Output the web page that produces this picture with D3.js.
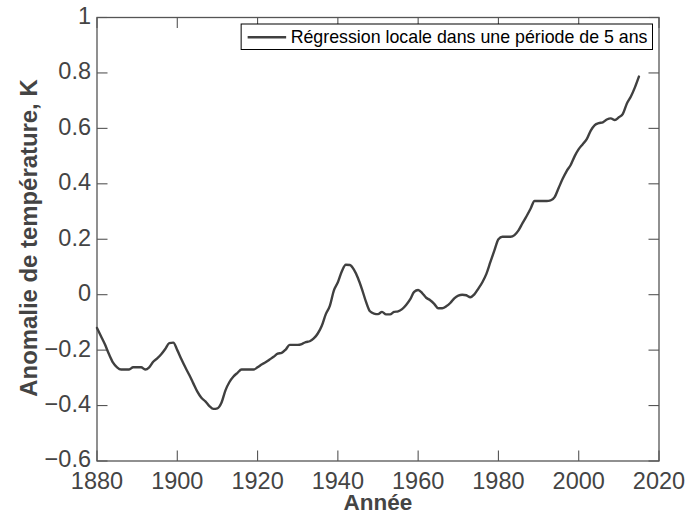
<!DOCTYPE html>
<html>
<head>
<meta charset="utf-8">
<script src="https://cdn.jsdelivr.net/npm/d3@7"></script>
<style>
  body { margin: 0; background: #fff; }
  svg { display: block; font-family: "Liberation Sans", Arial, sans-serif; }
</style>
</head>
<body>
<svg id="chart" width="689" height="513"></svg>
<script>
// yearly values, 1880..2015
var startYear = 1880;
var anomaly = [
  -0.12, -0.15, -0.18, -0.215, -0.245, -0.262, -0.27, -0.27, -0.27, -0.262,
  -0.262, -0.262, -0.27, -0.262, -0.242, -0.23, -0.215, -0.196, -0.175, -0.173,
  -0.2, -0.232, -0.262, -0.29, -0.32, -0.35, -0.372, -0.385, -0.402, -0.412,
  -0.41, -0.39, -0.345, -0.315, -0.295, -0.282, -0.27, -0.27, -0.27, -0.27,
  -0.262, -0.252, -0.244, -0.234, -0.224, -0.213, -0.21, -0.198, -0.181, -0.181,
  -0.181, -0.178, -0.171, -0.168, -0.158, -0.14, -0.112, -0.07, -0.04, 0.015,
  0.045, 0.085, 0.108, 0.107, 0.09, 0.06, 0.02, -0.025, -0.06, -0.068,
  -0.07, -0.062, -0.071, -0.071, -0.062, -0.06, -0.052, -0.037, -0.017, 0.01,
  0.017, 0.006, -0.011, -0.02, -0.033, -0.049, -0.049, -0.042, -0.03, -0.013,
  -0.003, 0, -0.002, -0.009, 0.001, 0.022, 0.045, 0.075, 0.118, 0.16,
  0.2, 0.209, 0.209, 0.209, 0.215, 0.232, 0.258, 0.283, 0.31, 0.338,
  0.338, 0.338, 0.338, 0.34, 0.352, 0.385, 0.418, 0.446, 0.468, 0.5,
  0.525, 0.543, 0.561, 0.592, 0.612, 0.619, 0.622, 0.632, 0.636, 0.63,
  0.64, 0.652, 0.69, 0.715, 0.748, 0.787
];
var xTicks = [1880, 1900, 1920, 1940, 1960, 1980, 2000, 2020];
var yTicks = [-0.6, -0.4, -0.2, 0, 0.2, 0.4, 0.6, 0.8, 1];
var legendLabel = "Régression locale dans une période de 5 ans";
var xLabel = "Année";
var yLabel = "Anomalie de température, K";

var margin = {left: 97, right: 30, top: 17.5, bottom: 52};
var width = 689, height = 513;
var axisColor = "#555", textColor = "#444", lineColor = "#404040";
var tickLen = 10.5;
var tickFont = 23.5;

var svg = d3.select("#chart");

var x = d3.scaleLinear().domain([1880, 2020]).range([margin.left, width - margin.right]);
var y = d3.scaleLinear().domain([-0.6, 1]).range([height - margin.bottom, margin.top]);

var data = anomaly.map(function(v, i) { return {year: startYear + i, value: v}; });

// tick label formatter, minus sign like the original
function fmtY(d) {
  var s = d3.format("")(+d.toFixed(1));
  return s.replace("-", "\u2212");
}

// frame
svg.append("rect")
   .attr("x", x.range()[0]).attr("y", y.range()[1])
   .attr("width", x.range()[1] - x.range()[0])
   .attr("height", y.range()[0] - y.range()[1])
   .attr("fill", "none").attr("stroke", axisColor).attr("stroke-width", 1.3);

// ticks on all four sides, pointing inward
var tickG = svg.append("g").attr("stroke", axisColor).attr("stroke-width", 1.1);
xTicks.forEach(function(t) {
  tickG.append("line").attr("x1", x(t)).attr("x2", x(t))
       .attr("y1", y.range()[0]).attr("y2", y.range()[0] - tickLen);
  tickG.append("line").attr("x1", x(t)).attr("x2", x(t))
       .attr("y1", y.range()[1]).attr("y2", y.range()[1] + tickLen);
});
yTicks.forEach(function(t) {
  tickG.append("line").attr("x1", x.range()[0]).attr("x2", x.range()[0] + tickLen)
       .attr("y1", y(t)).attr("y2", y(t));
  tickG.append("line").attr("x1", x.range()[1]).attr("x2", x.range()[1] - tickLen)
       .attr("y1", y(t)).attr("y2", y(t));
});

// tick labels
svg.append("g").selectAll("text").data(xTicks).enter().append("text")
   .attr("x", function(d) { return x(d); })
   .attr("y", 488.5)
   .attr("text-anchor", "middle")
   .attr("font-size", tickFont).attr("fill", textColor)
   .text(function(d) { return d; });

svg.append("g").selectAll("text").data(yTicks).enter().append("text")
   .attr("x", x.range()[0] - 6)
   .attr("y", function(d) { return y(d) - 2; })
   .attr("dy", "0.36em")
   .attr("text-anchor", "end")
   .attr("font-size", tickFont).attr("fill", textColor)
   .text(fmtY);

// axis titles
svg.append("text")
   .attr("x", (x.range()[0] + x.range()[1]) / 2).attr("y", 509.5)
   .attr("text-anchor", "middle").attr("font-size", 22.5).attr("font-weight", "bold")
   .attr("fill", textColor).text(xLabel);

svg.append("text")
   .attr("transform", "translate(37," + 238 + ") rotate(-90)")
   .attr("text-anchor", "middle").attr("font-size", 23.9).attr("font-weight", "bold")
   .attr("fill", textColor).text(yLabel);

// the curve
var line = d3.line()
             .x(function(d) { return x(d.year); })
             .y(function(d) { return y(d.value); })
             .curve(d3.curveMonotoneX);

svg.append("path").datum(data)
   .attr("d", line)
   .attr("fill", "none").attr("stroke", lineColor)
   .attr("stroke-width", 2.4).attr("stroke-linejoin", "round").attr("stroke-linecap", "round");

// legend, anchored to the top right
var legendRight = 652.5, legendTop = 24, legendH = 25.5;
var legend = svg.append("g");
var box = legend.append("rect")
   .attr("y", legendTop).attr("height", legendH)
   .attr("fill", "#fff").attr("stroke", "#000").attr("stroke-width", 1);
var lt = legend.append("text")
   .attr("y", legendTop + legendH / 2).attr("dy", "0.35em")
   .attr("font-size", 17.8).attr("fill", "#000").text(legendLabel);
var tw = lt.node().getComputedTextLength();
var textX = legendRight - 5 - tw;
lt.attr("x", textX);
var boxX = textX - 49.5;
box.attr("x", boxX).attr("width", legendRight - boxX);
legend.append("line")
   .attr("x1", boxX + 6.5).attr("x2", boxX + 45)
   .attr("y1", legendTop + legendH / 2 + 0.5).attr("y2", legendTop + legendH / 2 + 0.5)
   .attr("stroke", lineColor).attr("stroke-width", 2.4);
</script>
</body>
</html>
